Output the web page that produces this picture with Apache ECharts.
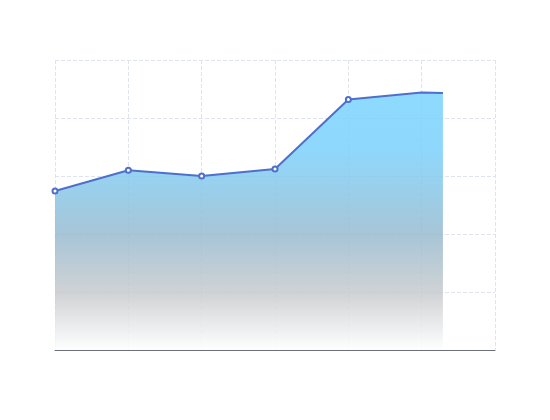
<!DOCTYPE html>
<html>
<head>
<meta charset="utf-8">
<script src="https://cdn.jsdelivr.net/npm/echarts@6/dist/echarts.min.js"></script>
<style>html,body{margin:0;padding:0;background:#fff;}#c{width:550px;height:420px;}</style>
</head>
<body>
<div id="c"></div>
<script>
// positions along the x axis (last point is where the drawn line ends)
var xPositions = [0, 1, 2, 3, 4, 5, 5.29];
var values = [137, 155, 150, 156, 216, 222, 221.5];
var showMarker = [true, true, true, true, true, false, false];

var seriesData = xPositions.map(function (x, i) {
  return { value: [x, values[i]], symbolSize: showMarker[i] ? 5 : 0 };
});

var chart = echarts.init(document.getElementById('c'));
chart.setOption({
  animation: false,
  grid: { left: 55, right: 55, top: 60, bottom: 70 },
  xAxis: {
    type: 'value', min: 0, max: 6, interval: 1,
    axisLine: { show: true, onZero: false, lineStyle: { color: '#6e7079' } },
    axisTick: { show: false },
    axisLabel: { show: false },
    splitLine: { show: true, lineStyle: { type: 'dashed', color: '#dfe3ee' } }
  },
  yAxis: {
    type: 'value', min: 0, max: 250, interval: 50,
    axisLine: { show: false },
    axisTick: { show: false },
    axisLabel: { show: false },
    splitLine: { show: true, lineStyle: { type: 'dashed', color: '#dfe3ee' } }
  },
  series: [{
    type: 'line',
    data: seriesData,
    symbol: 'emptyCircle',
    symbolSize: 5,
    showSymbol: true,
    lineStyle: { color: '#4e6fcb', width: 2 },
    itemStyle: { color: '#4e6fcb', borderWidth: 1.5 },
    areaStyle: {
      opacity: 0.85,
      color: new echarts.graphic.LinearGradient(0, 0, 0, 1, [
        { offset: 0, color: '#7bd3ff' },
        { offset: 0.22, color: '#7bd1fc' },
        { offset: 0.55, color: '#98bbd0' },
        { offset: 0.78, color: '#c8cbce' },
        { offset: 1, color: '#ffffff' }
      ])
    }
  }]
});
</script>
</body>
</html>
